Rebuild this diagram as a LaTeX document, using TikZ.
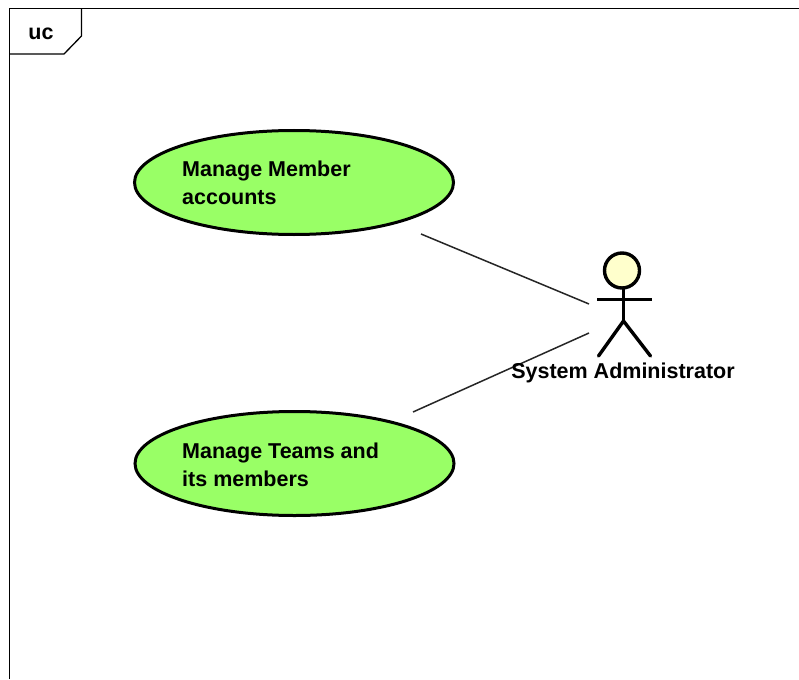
\documentclass[tikz,border=0pt]{standalone}
\usepackage{fontspec}
\setmainfont{Liberation Sans}
\usetikzlibrary{shapes.geometric}
\definecolor{ucgreen}{RGB}{153,255,102}
\definecolor{actoryellow}{RGB}{255,255,204}
\tikzset{
  usecase/.style={draw=black,line width=3pt,fill=ucgreen,ellipse,minimum width=319pt,minimum height=104pt,inner sep=0pt},
  uclabel/.style={font=\fontsize{21.5pt}{28pt}\selectfont\bfseries,align=left,anchor=west,inner sep=0pt,text=black},
  frameline/.style={draw=black,line width=1.3pt},
  assoc/.style={draw=black!85,line width=1.5pt},
  limb/.style={draw=black,line width=3.4pt,line cap=round}
}
\begin{document}
\begin{tikzpicture}[x=1pt,y=-1pt]
\useasboundingbox (0,0) rectangle (799,679);
\fill[white] (0,0) rectangle (799,679);
% frame
\draw[frameline] (9.5,679) -- (9.5,8.5) -- (799,8.5);
\draw[frameline] (9.5,54) -- (64,54) -- (81.5,36) -- (81.5,8.5);
\node[font=\fontsize{21.5pt}{24pt}\selectfont\bfseries] (tag) at (41,34) {uc};
% use cases
\node[usecase] (uc1) at (294,182.5) {};
\node[usecase] (uc2) at (294.5,463.5) {};
\node[uclabel] (t1) at (182,183) {Manage Member\\accounts};
\node[uclabel] (t2) at (182,464.5) {Manage Teams and\\its members};
% actor
\node[draw=black,line width=3.4pt,fill=actoryellow,circle,minimum size=35pt,inner sep=0pt] (head) at (622,270.5) {};
\coordinate (hip) at (623.5,321);
\coordinate (armL) at (597,299.5);
\coordinate (armR) at (652,299.5);
\coordinate (legL) at (598.5,356);
\coordinate (legR) at (650.5,356);
\draw[limb,line cap=butt] (623.5,288) -- (hip);
\draw[limb,line cap=butt] (armL) -- (armR);
\draw[limb] (legL) -- (hip) -- (legR);
% associations
\coordinate (a1) at (421,234);
\coordinate (b1) at (589,304);
\coordinate (a2) at (413,412);
\coordinate (b2) at (589,333);
\draw[assoc] (a1) -- (b1);
\draw[assoc] (a2) -- (b2);
\node[font=\fontsize{21.5pt}{24pt}\selectfont\bfseries,text=black] (actor) at (623,373) {System Administrator};
\end{tikzpicture}
\end{document}
